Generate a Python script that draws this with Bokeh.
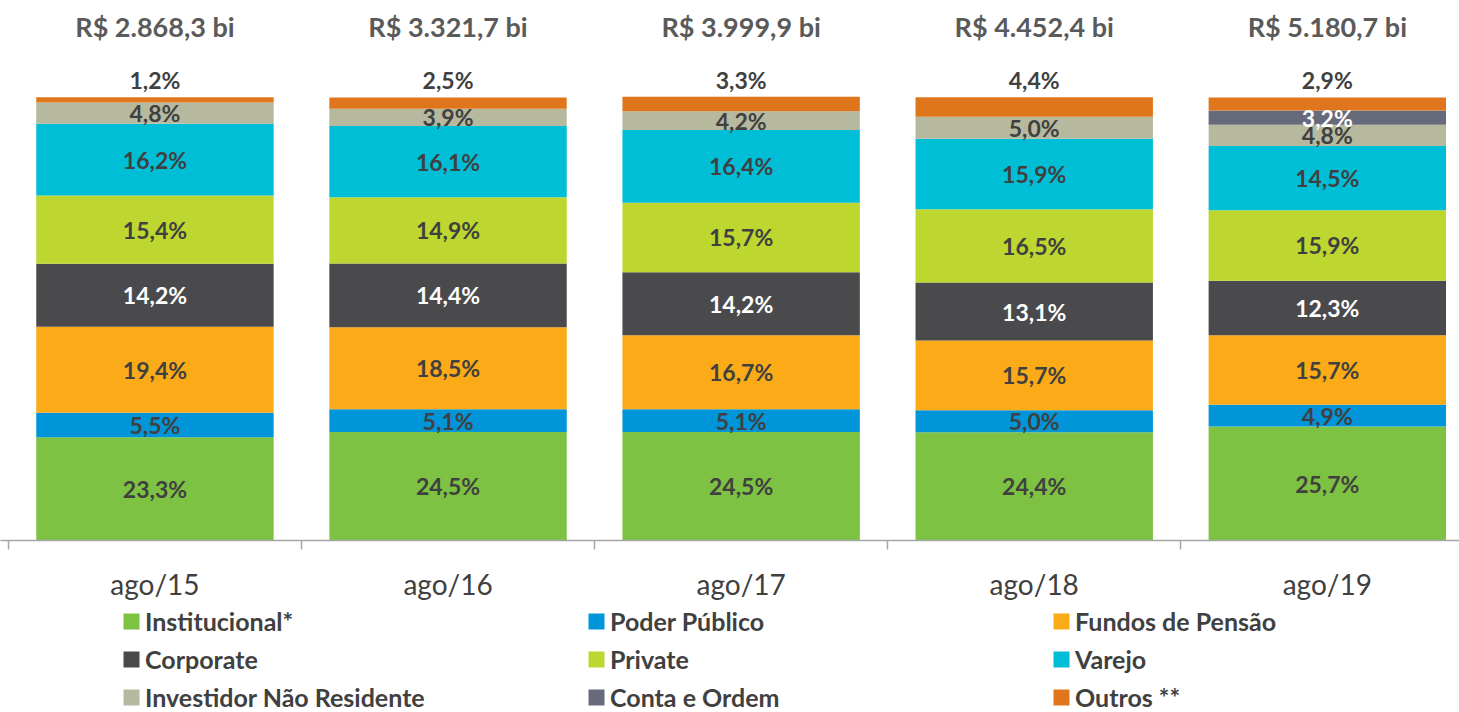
import numpy as np
from bokeh.plotting import figure
from bokeh.layouts import column
from bokeh.models import ColumnDataSource, Range1d, FixedTicker, Legend, LegendItem
from bokeh.core.properties import value
from bokeh.embed import file_html
from bokeh.resources import INLINE

# ---- data ----
periods = ["ago/15", "ago/16", "ago/17", "ago/18", "ago/19"]
totals_bi = [2868.3, 3321.7, 3999.9, 4452.4, 5180.7]

series_names = ["Institucional*", "Poder Público", "Fundos de Pensão",
                "Corporate", "Private", "Varejo",
                "Investidor Não Residente", "Conta e Ordem", "Outros **"]

institucional = [23.3, 24.5, 24.5, 24.4, 25.7]
poder_publico = [5.5, 5.1, 5.1, 5.0, 4.9]
fundos_pensao = [19.4, 18.5, 16.7, 15.7, 15.7]
corporate = [14.2, 14.4, 14.2, 13.1, 12.3]
private = [15.4, 14.9, 15.7, 16.5, 15.9]
varejo = [16.2, 16.1, 16.4, 15.9, 14.5]
nao_residente = [4.8, 3.9, 4.2, 5.0, 4.8]
conta_ordem = [0.0, 0.0, 0.0, 0.0, 3.2]
outros = [1.2, 2.5, 3.3, 4.4, 2.9]

series_values = [institucional, poder_publico, fundos_pensao, corporate,
                 private, varejo, nao_residente, conta_ordem, outros]

colors = ["#7dc242", "#0095d9", "#fbab18", "#4a4a4d", "#bed630",
          "#00bed6", "#b6b99e", "#676a7b", "#e0761b"]
label_colors = ["#404040", "#404040", "#404040", "#ffffff", "#404040",
                "#404040", "#404040", "#ffffff", "#404040"]

keys = ["s%d" % i for i in range(len(series_names))]
xs = list(range(len(periods)))

src = {"x": xs}
for k, v in zip(keys, series_values):
    src[k] = v
source = ColumnDataSource(src)

FONT = "Lato"

p = figure(width=1459, height=603, output_backend="svg", toolbar_location=None,
           x_range=Range1d(-0.527, 4.451), y_range=Range1d(0, 121.8),
           y_axis_location=None, min_border_left=0, min_border_right=0,
           min_border_top=0, min_border_bottom=62, outline_line_color=None,
           background_fill_color="white", border_fill_color="white")
p.xgrid.grid_line_color = None
p.ygrid.grid_line_color = None

renderers = p.vbar_stack(keys, x="x", width=0.81, color=colors, source=source,
                         line_color=None)

# segment labels
lx, ly, lt, lc = [], [], [], []
for i in range(len(periods)):
    base = 0.0
    for j, vals in enumerate(series_values):
        v = vals[i]
        if v > 0:
            txt = ("%.1f%%" % v).replace(".", ",")
            if j == len(series_values) - 1:
                y = 103.8
            else:
                y = base + v / 2.0
            lx.append(i); ly.append(y); lt.append(txt); lc.append(label_colors[j])
        base += v

lab_src = ColumnDataSource(dict(x=lx, y=ly, t=lt, c=lc))
p.text(x="x", y="y", text="t", source=lab_src, text_color="c",
       text_font=value(FONT), text_font_style="bold", text_font_size="23px",
       text_align="center", text_baseline="middle")

# totals
tot_txt = []
for t in totals_bi:
    s = "{:,.1f}".format(t).replace(",", "X").replace(".", ",").replace("X", ".")
    tot_txt.append("R$ %s bi" % s)
tot_src = ColumnDataSource(dict(x=xs, y=[116.0] * len(xs), t=tot_txt))
p.text(x="x", y="y", text="t", source=tot_src, text_color="#5a5a5a",
       text_font=value(FONT), text_font_style="bold", text_font_size="27px",
       text_align="center", text_baseline="middle")

# x axis
ax = p.xaxis[0]
ax.ticker = FixedTicker(ticks=xs, minor_ticks=[x - 0.5 for x in xs] + [xs[-1] + 0.5])
ax.major_label_overrides = {i: periods[i] for i in xs}
ax.axis_line_color = "#a6a6a6"
ax.axis_line_width = 1.5
ax.major_tick_line_color = None
ax.major_tick_out = 0
ax.major_tick_in = 0
ax.minor_tick_line_color = "#a6a6a6"
ax.minor_tick_line_width = 1.5
ax.minor_tick_out = 9
ax.minor_tick_in = 0
ax.major_label_text_font = FONT
ax.major_label_text_font_size = "28px"
ax.major_label_text_color = "#404040"
ax.major_label_standoff = 17

# legend figure: zero-height proxy bars, only the legend is visible
p2 = figure(width=1459, height=109, output_backend="svg", toolbar_location=None,
            x_range=Range1d(-0.527, 4.451), y_range=Range1d(10, 11),
            x_axis_location=None, y_axis_location=None,
            min_border_left=0, min_border_right=0, min_border_top=0,
            min_border_bottom=0, outline_line_color=None,
            background_fill_color="white", border_fill_color="white")
p2.xgrid.grid_line_color = None
p2.ygrid.grid_line_color = None
proxy = {"x": [0]}
for k in keys:
    proxy[k] = [0.0]
leg_renderers = p2.vbar_stack(keys, x="x", width=0.81, color=colors,
                              source=ColumnDataSource(proxy), line_color=None)

items = [LegendItem(label=n, renderers=[r]) for n, r in zip(series_names, leg_renderers)]
legend = Legend(items=items, location=(121, 0), orientation="horizontal", ncols=3,
                glyph_width=20, glyph_height=20, label_standoff=4, label_width=433,
                label_height=20, spacing=8, padding=0, margin=0,
                border_line_color=None, background_fill_alpha=0,
                label_text_font=FONT, label_text_font_style="bold",
                label_text_font_size="25px", label_text_color="#404040")
p2.add_layout(legend)

layout = column(p, p2, spacing=0)
open("out.html", "w").write(file_html(layout, INLINE))
